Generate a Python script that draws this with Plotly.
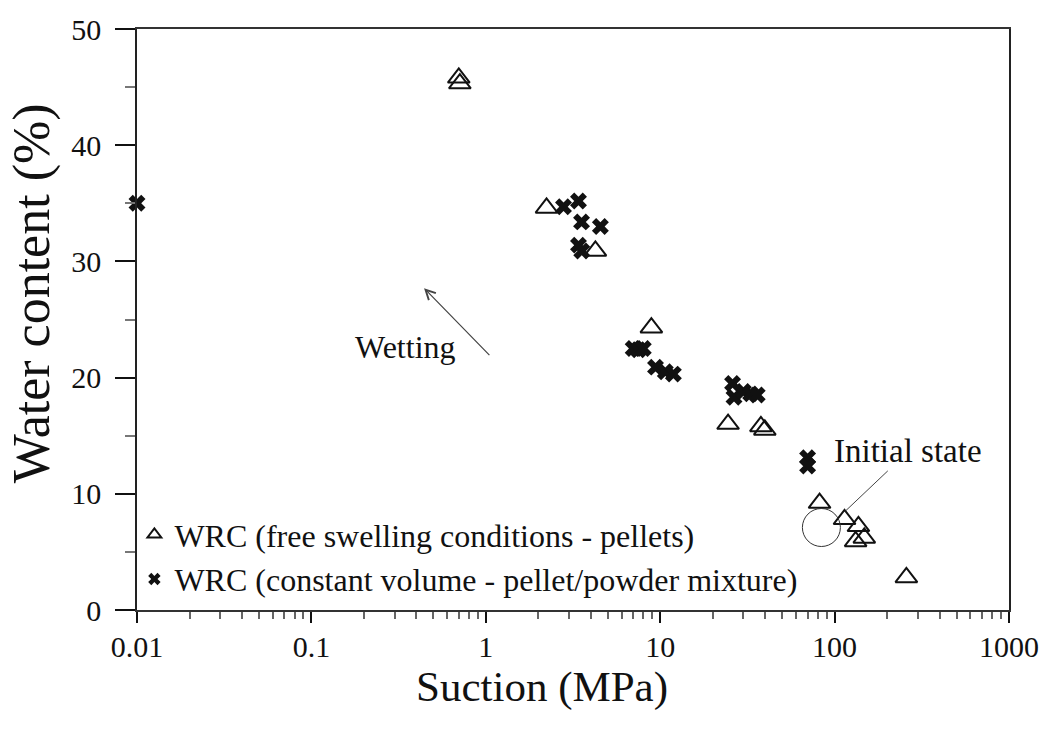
import plotly.graph_objects as go

# Free swelling conditions (pellets) - triangles
free_suction = [0.70, 0.71, 2.23, 4.25, 8.9, 24.5, 37.8, 39.8, 82, 114, 137, 148, 132, 258]
free_water = [45.8, 45.3, 34.6, 30.9, 24.3, 16.0, 15.8, 15.5, 9.2, 7.8, 7.2, 6.2, 5.9, 2.8]

# Constant volume (pellet/powder mixture) - crosses
cv_suction = [0.01, 2.79, 3.40, 3.54, 4.54, 3.40, 3.55, 7.0, 7.5, 8.0, 9.4, 10.7, 11.9,
              26.0, 26.5, 30.0, 33.0, 36.0, 70.0, 70.0]
cv_water = [35.0, 34.7, 35.2, 33.4, 33.0, 31.4, 30.9, 22.5, 22.4, 22.5, 20.9, 20.5, 20.3,
            19.5, 18.3, 18.8, 18.6, 18.5, 13.1, 12.4]

# Initial state
init_suction = [84]
init_water = [7.1]

x_ticks = [0.01, 0.1, 1, 10, 100, 1000]
x_ticklabels = ["0.01", "0.1", "1", "10", "100", "1000"]
y_ticks = [0, 10, 20, 30, 40, 50]

FONT = "Liberation Serif, Times New Roman, serif"
INK = "#111111"

fig = go.Figure()

fig.add_trace(go.Scatter(
    x=free_suction, y=free_water, mode="markers", showlegend=False, cliponaxis=False,
    marker=dict(symbol="triangle-up-open", size=19, color=INK, line=dict(width=2, color=INK)),
))
fig.add_trace(go.Scatter(
    x=cv_suction, y=cv_water, mode="markers", showlegend=False, cliponaxis=False,
    marker=dict(symbol="x", size=15, color=INK, line=dict(width=0)),
))
fig.add_trace(go.Scatter(
    x=init_suction, y=init_water, mode="markers", showlegend=False,
    marker=dict(symbol="circle-open", size=38, color="#333333", line=dict(width=1, color="#333333")),
))

# legend-only entries
fig.add_trace(go.Scatter(
    x=[None], y=[None], mode="markers", name="WRC (free swelling conditions - pellets)",
    legendgroup="a",
    marker=dict(symbol="triangle-up-open", size=12, color=INK, line=dict(width=2, color=INK)),
))
fig.add_trace(go.Scatter(
    x=[None], y=[None], mode="markers", name="WRC (constant volume - pellet/powder mixture)",
    legendgroup="b",
    marker=dict(symbol="x", size=11, color=INK, line=dict(width=0)),
))

annotations = [
    dict(x=-0.463, y=22.6, xref="x", yref="y", text="Wetting", showarrow=False,
         font=dict(family=FONT, size=32, color=INK)),
    dict(x=-0.354, y=27.7, xref="x", yref="y", ax=0.029, ay=21.8, axref="x", ayref="y",
         text="", showarrow=True, arrowhead=5, arrowsize=1.6, arrowwidth=1.2,
         arrowcolor="#444444", standoff=0, startstandoff=0),
    dict(x=2.063, y=8.53, xref="x", yref="y", ax=2.423, ay=13.65, axref="x", ayref="y",
         text="Initial state", showarrow=True, arrowhead=0, arrowwidth=1,
         arrowcolor="#444444", standoff=0,
         font=dict(family=FONT, size=33, color=INK)),
    # axis titles
    dict(x=0.464, y=-0.133, xref="paper", yref="paper", text="Suction (MPa)",
         showarrow=False, xanchor="center", yanchor="middle",
         font=dict(family=FONT, size=43, color=INK)),
    dict(x=-0.121, y=0.546, xref="paper", yref="paper", text="Water content (%)",
         showarrow=False, xanchor="center", yanchor="middle", textangle=-90,
         font=dict(family=FONT, size=52, color=INK)),
]

fig.update_layout(
    width=1051, height=740,
    margin=dict(l=137, r=39, t=24, b=130),
    paper_bgcolor="white", plot_bgcolor="white",
    font=dict(family=FONT, color=INK),
    showlegend=True,
    legend=dict(x=-0.003, y=0.005, xanchor="left", yanchor="bottom",
                bgcolor="rgba(0,0,0,0)", font=dict(family=FONT, size=32, color=INK),
                tracegroupgap=0, itemsizing="trace"),
    annotations=annotations,
    xaxis=dict(
        type="log", range=[-2, 3], tickvals=x_ticks, ticktext=x_ticklabels,
        ticks="outside", ticklen=11, tickwidth=1.5, tickcolor=INK,
        showline=True, linecolor="#333333", linewidth=2, mirror=True,
        showgrid=False, zeroline=False,
        tickfont=dict(family=FONT, size=30, color=INK),
        ticklabelstandoff=-2,
        minor=dict(ticks="outside", ticklen=7, tickwidth=1.5, tickcolor="#666666",
                   dtick="D1", showgrid=False),
    ),
    yaxis=dict(
        range=[0, 50], tickvals=y_ticks,
        ticks="outside", ticklen=20, tickwidth=1.5, tickcolor=INK,
        showline=True, linecolor="#222222", linewidth=1.5, mirror=True,
        showgrid=False, zeroline=False,
        tickfont=dict(family=FONT, size=30, color=INK),
        ticklabelstandoff=8,
        minor=dict(ticks="outside", ticklen=10, tickwidth=1.5, tickcolor="#777777",
                   dtick=5, showgrid=False),
    ),
)

fig.write_html(
    "out.html",
    config={"displayModeBar": False},
    post_script="document.body.style.margin='0';document.body.style.padding='0';",
)
